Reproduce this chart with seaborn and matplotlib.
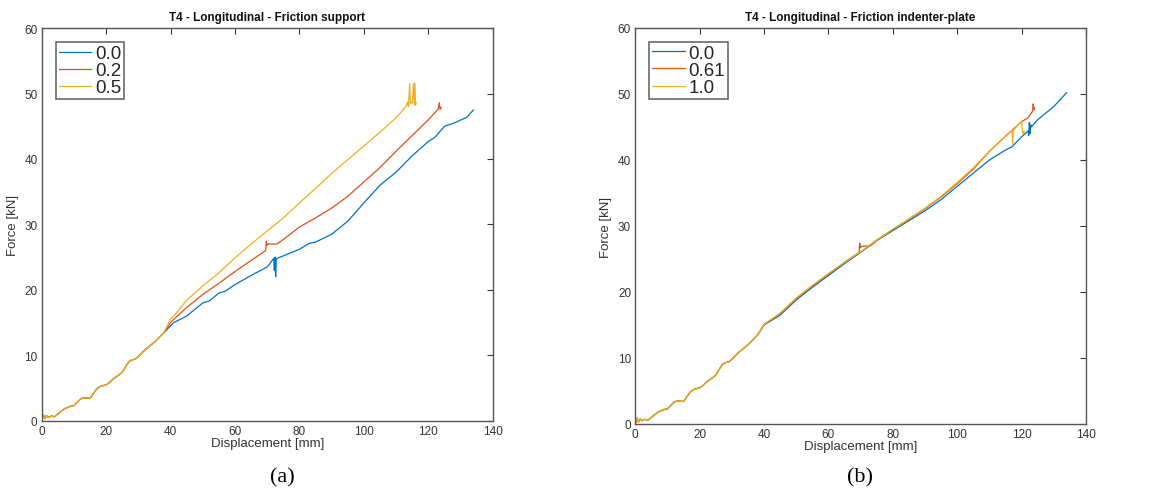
import numpy as np
import pandas as pd
import matplotlib
matplotlib.use("Agg")
import matplotlib.pyplot as plt
import seaborn as sns

# ---- force-displacement curves, T4 longitudinal ----
# shared loading branch (both panels)
base_x = [0, 0.5, 1, 1.5, 2, 3, 4, 5, 7, 9, 10, 12, 13, 15, 17, 18, 20, 21, 22, 24, 25, 26, 27, 28, 29, 30, 32, 35, 38]
base_y = [0, 0.9, 0.3, 0.8, 0.5, 0.7, 0.6, 1.0, 1.8, 2.2, 2.3, 3.3, 3.5, 3.4, 4.8, 5.2, 5.5, 5.8, 6.3, 7.0, 7.4, 8.2, 9.0, 9.3, 9.4, 9.8, 10.8, 12.0, 13.5]

# (a) friction at the support
sup_labels = ["0.0", "0.2", "0.5"]
sup_x_00 = base_x + [40, 41, 45, 50, 52, 55, 57, 60, 65, 70, 72, 72.2, 72.4, 72.6, 72.8, 73, 80, 83, 85, 90, 95, 100, 105, 110, 115, 120, 122, 125, 128, 132, 132.5, 134]
sup_y_00 = base_y + [14.5, 15.0, 16.0, 18.0, 18.3, 19.5, 19.8, 20.8, 22.2, 23.5, 24.8, 23.0, 25.0, 22.0, 24.6, 24.8, 26.2, 27.1, 27.3, 28.5, 30.5, 33.3, 36.0, 38.0, 40.5, 42.7, 43.3, 45.0, 45.5, 46.4, 46.7, 47.5]
sup_x_02 = base_x + [40, 41, 45, 50, 55, 60, 65, 69.5, 69.7, 69.9, 70.2, 73, 75, 80, 85, 90, 95, 100, 105, 110, 115, 120, 123, 123.4, 123.6, 124]
sup_y_02 = base_y + [15.0, 15.5, 17.3, 19.3, 21.0, 22.8, 24.5, 26.0, 27.4, 26.8, 27.0, 27.0, 27.7, 29.6, 31.0, 32.5, 34.3, 36.5, 38.7, 41.2, 43.6, 46.0, 47.6, 48.6, 47.6, 47.9]
sup_x_05 = base_x + [40, 41, 45, 50, 55, 60, 65, 70, 75, 80, 85, 90, 95, 100, 105, 110, 113, 113.5, 113.8, 114.2, 114.4, 114.7, 115.0, 115.4, 115.6, 115.8, 116.0, 116.2]
sup_y_05 = base_y + [15.6, 16.0, 18.4, 20.6, 22.6, 24.9, 27.0, 29.0, 31.0, 33.3, 35.5, 37.8, 39.9, 42.0, 44.1, 46.3, 48.0, 48.7, 48.0, 51.5, 48.4, 48.6, 48.6, 51.5, 48.3, 51.6, 48.2, 48.6]

# (b) friction between indenter and plate
ind_labels = ["0.0", "0.61", "1.0"]
ind_x_00 = base_x + [40, 45, 50, 55, 60, 65, 70, 75, 80, 85, 90, 95, 100, 105, 110, 115, 117, 120, 122, 122.2, 122.4, 122.6, 122.8, 123, 125, 130, 134]
ind_y_00 = base_y + [15.0, 16.5, 18.8, 20.7, 22.5, 24.3, 26.0, 27.8, 29.3, 30.8, 32.3, 34.0, 36.0, 38.0, 40.0, 41.5, 42.0, 43.5, 44.4, 43.7, 45.7, 44.0, 45.3, 45.0, 46.1, 48.1, 50.2]
ind_x_061 = base_x + [40, 45, 50, 55, 60, 65, 69.5, 69.7, 69.9, 70.2, 73, 75, 80, 85, 90, 95, 100, 105, 110, 115, 120, 122, 123.4, 123.6, 123.8, 124]
ind_y_061 = base_y + [15.1, 16.7, 19.0, 20.9, 22.7, 24.5, 26.0, 27.4, 26.7, 26.9, 27.0, 27.8, 29.5, 31.0, 32.6, 34.4, 36.4, 38.6, 41.3, 43.6, 45.8, 46.4, 47.4, 48.5, 47.6, 47.9]
ind_x_10 = base_x + [40, 45, 50, 55, 60, 65, 70, 75, 80, 85, 90, 95, 100, 105, 110, 115, 117, 117.2, 117.4, 117.6, 120, 120.3, 120.6, 121]
ind_y_10 = base_y + [15.1, 16.8, 19.1, 21.0, 22.8, 24.5, 26.1, 27.9, 29.5, 31.1, 32.7, 34.5, 36.6, 38.8, 41.3, 43.6, 44.5, 42.4, 44.3, 44.6, 45.9, 44.0, 44.3, 44.2]

colors = ["#0072BD", "#D95319", "#EDB120"]


def long_frame(labels, xs, ys):
    parts = []
    for lab, x, y in zip(labels, xs, ys):
        parts.append(pd.DataFrame({"Displacement": x, "Force": y, "friction": lab}))
    return pd.concat(parts, ignore_index=True)


panels = [
    ("T4 - Longitudinal - Friction support", sup_labels,
     [sup_x_00, sup_x_02, sup_x_05], [sup_y_00, sup_y_02, sup_y_05], "(a)"),
    ("T4 - Longitudinal - Friction indenter-plate", ind_labels,
     [ind_x_00, ind_x_061, ind_x_10], [ind_y_00, ind_y_061, ind_y_10], "(b)"),
]

sns.set_style("white")
plt.rcParams["font.family"] = ["Liberation Sans", "DejaVu Sans"]

fig = plt.figure(figsize=(11.54, 5.02), dpi=100)
positions = [[0.0361, 0.160, 0.391, 0.782], [0.5505, 0.1534, 0.3906, 0.789]]
caption_x = [0.245, 0.745]

axis_grey = "#333333"
for (title, labels, xs, ys, cap), pos, cx in zip(panels, positions, caption_x):
    ax = fig.add_axes(pos)
    df = long_frame(labels, xs, ys)
    sns.lineplot(data=df, x="Displacement", y="Force", hue="friction",
                 hue_order=labels, palette=dict(zip(labels, colors)),
                 sort=False, estimator=None, linewidth=0.9, ax=ax)
    ax.set_xlim(0, 140)
    ax.set_ylim(0, 60)
    ax.set_xticks(np.arange(0, 141, 20))
    ax.set_yticks(np.arange(0, 61, 10))
    ax.tick_params(direction="in", length=4, width=0.8, top=True, right=True,
                   labelsize=8.5, colors=axis_grey, pad=3)
    for s in ax.spines.values():
        s.set_color("#555555")
        s.set_linewidth(1.0)
    ax.set_xlabel("Displacement [mm]", fontsize=9.5, color=axis_grey, labelpad=0)
    ax.set_ylabel("Force [kN]", fontsize=9.5, color=axis_grey, labelpad=4)
    ax.set_title(title, fontsize=8.5, fontweight="bold", color="#111111", pad=6)
    leg = ax.legend(loc="upper left", fontsize=13.5, frameon=True, fancybox=False,
                    edgecolor="#444444", handlelength=1.75, handletextpad=0.2,
                    labelspacing=0.0, borderpad=0.15, borderaxespad=0.75)
    leg.get_frame().set_linewidth(1.2)
    leg.set_title(None)
    fig.text(cx, 0.028, cap, ha="center", va="bottom", fontsize=16,
             family="Liberation Serif", color="black")

fig.savefig("out.png", dpi=100)
